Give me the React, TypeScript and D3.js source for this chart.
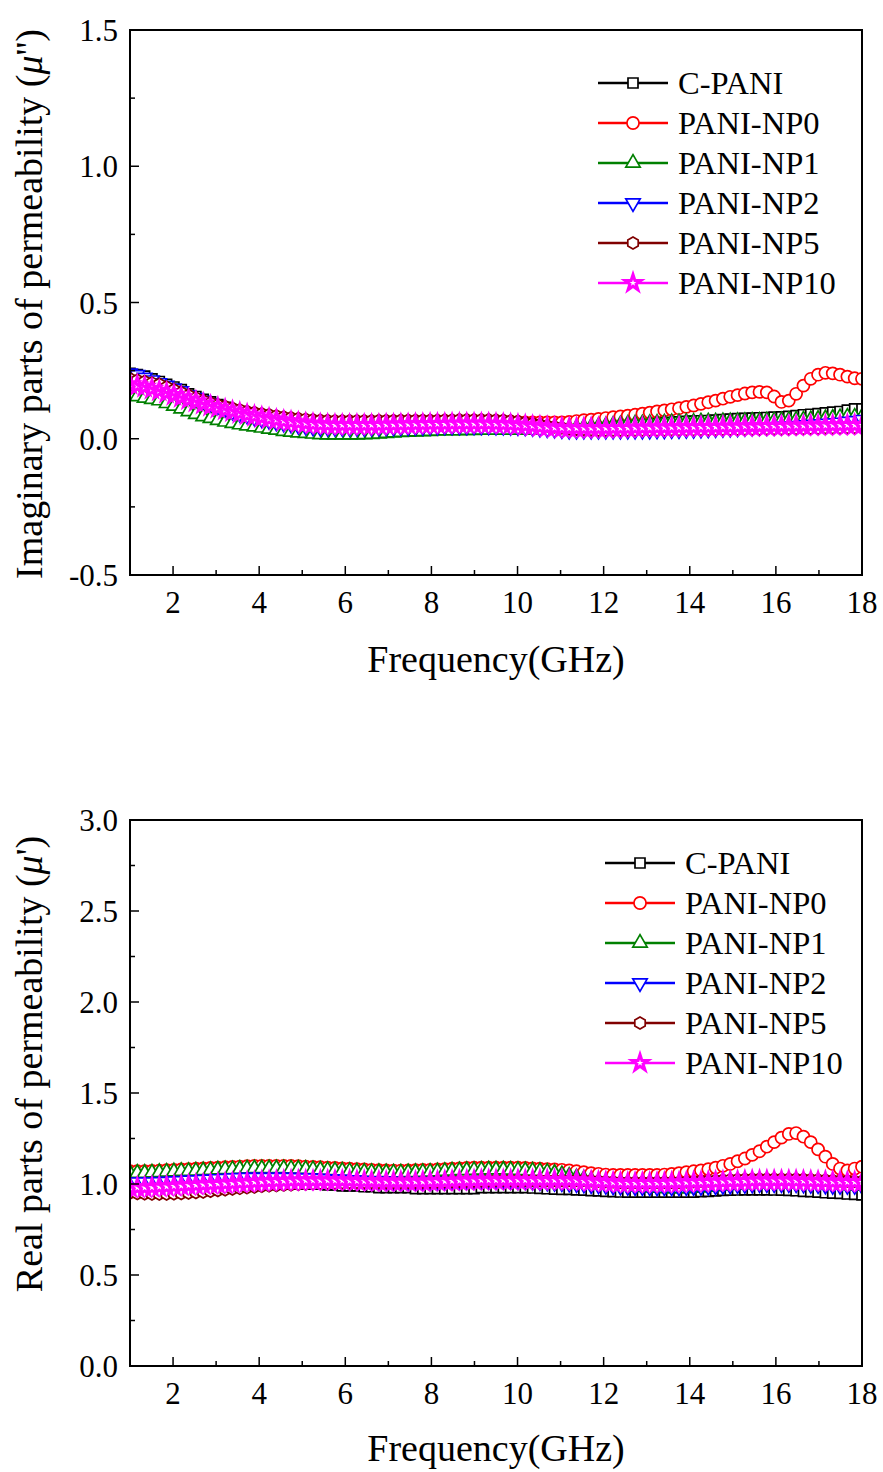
import { useEffect, useRef } from 'react'
import * as d3 from 'd3'

// measurement grid, 101 points from 1 to 18 GHz
const freq = d3.range(101).map(i => 1 + i * 0.17)

const seriesNames = ['C-PANI', 'PANI-NP0', 'PANI-NP1', 'PANI-NP2', 'PANI-NP5', 'PANI-NP10']
const seriesColors = ['#000000', '#ff0000', '#008000', '#0000ff', '#800000', '#ff00ff']
const seriesMarkers = ['square', 'circle', 'triangleUp', 'triangleDown', 'hexagon', 'star']

const xTicks = [2, 4, 6, 8, 10, 12, 14, 16, 18]
const imagTicks = [-0.5, 0.0, 0.5, 1.0, 1.5]
const realTicks = [0.0, 0.5, 1.0, 1.5, 2.0, 2.5, 3.0]

// imaginary part mu''
const imagCPANI = [
  0.24, 0.235, 0.23, 0.22, 0.21, 0.2, 0.19, 0.18, 0.165, 0.155,
  0.145, 0.135, 0.125, 0.115, 0.105, 0.1, 0.095, 0.09, 0.085, 0.08,
  0.075, 0.07, 0.065, 0.06, 0.058, 0.055, 0.053, 0.052, 0.05, 0.05,
  0.05, 0.05, 0.05, 0.05, 0.05, 0.052, 0.052, 0.053, 0.053, 0.054,
  0.055, 0.055, 0.055, 0.056, 0.056, 0.056, 0.056, 0.055, 0.055, 0.055,
  0.055, 0.054, 0.053, 0.052, 0.05, 0.048, 0.046, 0.045, 0.044, 0.044,
  0.044, 0.044, 0.045, 0.045, 0.045, 0.046, 0.046, 0.047, 0.048, 0.05,
  0.052, 0.054, 0.056, 0.058, 0.06, 0.062, 0.064, 0.065, 0.066, 0.067,
  0.068, 0.07, 0.072, 0.074, 0.075, 0.076, 0.077, 0.078, 0.079, 0.08,
  0.082, 0.085, 0.088, 0.09, 0.092, 0.095, 0.098, 0.1, 0.105, 0.11,
  0.11,
]
const imagNP0 = [
  0.21, 0.205, 0.2, 0.195, 0.19, 0.18, 0.17, 0.16, 0.15, 0.14,
  0.13, 0.12, 0.11, 0.105, 0.1, 0.095, 0.09, 0.085, 0.08, 0.075,
  0.07, 0.068, 0.065, 0.062, 0.06, 0.058, 0.056, 0.055, 0.055, 0.055,
  0.055, 0.055, 0.056, 0.056, 0.057, 0.057, 0.058, 0.058, 0.059, 0.06,
  0.06, 0.06, 0.06, 0.061, 0.061, 0.062, 0.062, 0.062, 0.062, 0.062,
  0.062, 0.062, 0.062, 0.061, 0.06, 0.06, 0.06, 0.06, 0.06, 0.06,
  0.062, 0.065, 0.068, 0.07, 0.073, 0.076, 0.079, 0.082, 0.085, 0.088,
  0.092, 0.096, 0.1, 0.104, 0.108, 0.112, 0.117, 0.122, 0.128, 0.134,
  0.14, 0.147, 0.154, 0.16, 0.166, 0.17, 0.172, 0.17, 0.155, 0.135,
  0.14, 0.165, 0.195, 0.22, 0.235, 0.242, 0.24, 0.235, 0.228, 0.222,
  0.22,
]
const imagNP1 = [
  0.16, 0.155, 0.15, 0.145, 0.14, 0.13, 0.12, 0.11, 0.1, 0.09,
  0.082, 0.075, 0.068, 0.062, 0.057, 0.052, 0.048, 0.044, 0.04, 0.036,
  0.032, 0.028, 0.025, 0.022, 0.02, 0.018, 0.016, 0.015, 0.015, 0.015,
  0.015, 0.015, 0.016, 0.017, 0.018, 0.02, 0.022, 0.024, 0.025, 0.026,
  0.027, 0.028, 0.029, 0.03, 0.03, 0.03, 0.031, 0.031, 0.032, 0.032,
  0.032, 0.032, 0.032, 0.032, 0.033, 0.033, 0.034, 0.035, 0.036, 0.037,
  0.038, 0.04, 0.042, 0.044, 0.046, 0.048, 0.05, 0.052, 0.054, 0.055,
  0.056, 0.057, 0.058, 0.059, 0.06, 0.06, 0.061, 0.061, 0.062, 0.062,
  0.062, 0.063, 0.063, 0.064, 0.064, 0.065, 0.065, 0.066, 0.066, 0.067,
  0.068, 0.069, 0.07, 0.071, 0.072, 0.074, 0.076, 0.078, 0.08, 0.08,
  0.08,
]
const imagNP2 = [
  0.24, 0.235, 0.225, 0.215, 0.205, 0.195, 0.185, 0.175, 0.16, 0.15,
  0.14, 0.13, 0.12, 0.11, 0.1, 0.092, 0.085, 0.078, 0.072, 0.066,
  0.06, 0.056, 0.052, 0.048, 0.045, 0.042, 0.04, 0.04, 0.04, 0.04,
  0.04, 0.04, 0.04, 0.041, 0.041, 0.042, 0.042, 0.043, 0.043, 0.044,
  0.044, 0.045, 0.045, 0.046, 0.046, 0.046, 0.046, 0.046, 0.046, 0.046,
  0.045, 0.045, 0.044, 0.043, 0.042, 0.04, 0.038, 0.036, 0.034, 0.032,
  0.03, 0.03, 0.03, 0.03, 0.03, 0.03, 0.03, 0.03, 0.03, 0.03,
  0.03, 0.03, 0.031, 0.031, 0.032, 0.032, 0.033, 0.033, 0.034, 0.035,
  0.036, 0.037, 0.038, 0.039, 0.04, 0.041, 0.042, 0.043, 0.044, 0.045,
  0.046, 0.048, 0.05, 0.052, 0.054, 0.056, 0.058, 0.06, 0.063, 0.066,
  0.07,
]
const imagNP5 = [
  0.22, 0.215, 0.21, 0.205, 0.2, 0.19, 0.18, 0.17, 0.16, 0.15,
  0.14, 0.132, 0.125, 0.118, 0.112, 0.106, 0.1, 0.096, 0.092, 0.088,
  0.084, 0.08, 0.077, 0.074, 0.072, 0.07, 0.068, 0.067, 0.066, 0.066,
  0.066, 0.066, 0.066, 0.066, 0.067, 0.067, 0.067, 0.068, 0.068, 0.068,
  0.068, 0.068, 0.068, 0.069, 0.069, 0.07, 0.07, 0.07, 0.07, 0.07,
  0.069, 0.068, 0.066, 0.064, 0.06, 0.056, 0.052, 0.048, 0.044, 0.04,
  0.037, 0.035, 0.034, 0.033, 0.032, 0.032, 0.032, 0.032, 0.032, 0.032,
  0.032, 0.032, 0.032, 0.032, 0.033, 0.033, 0.033, 0.033, 0.034, 0.034,
  0.034, 0.035, 0.035, 0.035, 0.036, 0.036, 0.036, 0.037, 0.037, 0.037,
  0.038, 0.038, 0.038, 0.039, 0.039, 0.04, 0.04, 0.04, 0.041, 0.041,
  0.042,
]
const imagNP10 = [
  0.2, 0.195, 0.19, 0.183, 0.176, 0.168, 0.16, 0.152, 0.144, 0.136,
  0.128, 0.12, 0.113, 0.106, 0.1, 0.094, 0.088, 0.083, 0.078, 0.073,
  0.069, 0.065, 0.062, 0.059, 0.056, 0.054, 0.052, 0.051, 0.05, 0.05,
  0.05, 0.05, 0.05, 0.05, 0.05, 0.051, 0.051, 0.052, 0.052, 0.053,
  0.053, 0.054, 0.054, 0.054, 0.055, 0.055, 0.055, 0.055, 0.055, 0.055,
  0.054, 0.053, 0.052, 0.05, 0.048, 0.046, 0.044, 0.042, 0.04, 0.039,
  0.038, 0.038, 0.038, 0.038, 0.038, 0.038, 0.039, 0.039, 0.039, 0.04,
  0.04, 0.04, 0.041, 0.041, 0.041, 0.042, 0.042, 0.042, 0.043, 0.043,
  0.043, 0.044, 0.044, 0.044, 0.045, 0.045, 0.045, 0.046, 0.046, 0.046,
  0.047, 0.047, 0.047, 0.048, 0.048, 0.048, 0.049, 0.049, 0.05, 0.05,
  0.05,
]

// real part mu'
const realCPANI = [
  0.98, 0.98, 0.98, 0.98, 0.98, 0.98, 0.98, 0.985, 0.985, 0.99,
  0.99, 0.99, 0.995, 0.995, 1.0, 1.0, 1.0, 1.0, 1.0, 1.0,
  1.0, 1.0, 1.0, 1.0, 1.0, 1.0, 1.0, 0.995, 0.995, 0.99,
  0.99, 0.99, 0.985, 0.985, 0.98, 0.98, 0.98, 0.98, 0.98, 0.975,
  0.975, 0.975, 0.975, 0.975, 0.975, 0.975, 0.975, 0.975, 0.98, 0.98,
  0.98, 0.98, 0.98, 0.98, 0.98, 0.978, 0.976, 0.974, 0.972, 0.97,
  0.97, 0.968, 0.966, 0.964, 0.962, 0.96, 0.958, 0.956, 0.955, 0.955,
  0.955, 0.955, 0.955, 0.955, 0.955, 0.955, 0.955, 0.955, 0.958, 0.96,
  0.962, 0.965, 0.966, 0.967, 0.968, 0.968, 0.968, 0.968, 0.967, 0.966,
  0.965, 0.963, 0.96, 0.958, 0.955, 0.952, 0.95, 0.948, 0.945, 0.943,
  0.94,
]
const realNP0 = [
  1.07, 1.07, 1.07, 1.072, 1.074, 1.076, 1.078, 1.08, 1.082, 1.084,
  1.086, 1.088, 1.09, 1.092, 1.094, 1.096, 1.098, 1.1, 1.1, 1.1,
  1.1, 1.1, 1.1, 1.098, 1.096, 1.094, 1.092, 1.09, 1.088, 1.086,
  1.084, 1.082, 1.08, 1.078, 1.076, 1.075, 1.074, 1.074, 1.075, 1.076,
  1.077, 1.078, 1.08, 1.082, 1.084, 1.086, 1.088, 1.09, 1.09, 1.09,
  1.09, 1.09, 1.09, 1.09, 1.088, 1.086, 1.084, 1.082, 1.08, 1.078,
  1.075, 1.07, 1.065, 1.06, 1.056, 1.052, 1.05, 1.05, 1.05, 1.05,
  1.05, 1.05, 1.05, 1.052, 1.055, 1.06, 1.065, 1.07, 1.075, 1.082,
  1.09, 1.1, 1.11, 1.125, 1.14, 1.16, 1.18, 1.205, 1.23, 1.255,
  1.275, 1.28, 1.26, 1.23, 1.19, 1.15, 1.11, 1.085, 1.075, 1.085,
  1.095,
]
const realNP1 = [
  1.06, 1.06, 1.06, 1.062, 1.064, 1.066, 1.068, 1.07, 1.07, 1.072,
  1.074, 1.076, 1.078, 1.08, 1.08, 1.082, 1.084, 1.085, 1.085, 1.085,
  1.085, 1.085, 1.084, 1.083, 1.082, 1.08, 1.078, 1.076, 1.074, 1.072,
  1.07, 1.068, 1.066, 1.065, 1.064, 1.063, 1.062, 1.062, 1.063, 1.064,
  1.065, 1.066, 1.068, 1.07, 1.072, 1.074, 1.075, 1.076, 1.077, 1.078,
  1.078, 1.078, 1.077, 1.076, 1.074, 1.072, 1.07, 1.066, 1.06, 1.052,
  1.044, 1.036, 1.028, 1.02, 1.012, 1.005, 1.0, 0.995, 0.99, 0.985,
  0.982, 0.98, 0.978, 0.976, 0.975, 0.975, 0.976, 0.978, 0.98, 0.983,
  0.986, 0.99, 0.993, 0.996, 0.998, 1.0, 1.0, 1.0, 1.0, 1.0,
  1.0, 1.0, 1.0, 1.0, 1.0, 0.998, 0.996, 0.994, 0.992, 0.99,
  0.99,
]
const realNP2 = [
  1.01, 1.01, 1.01, 1.01, 1.012, 1.014, 1.016, 1.018, 1.02, 1.022,
  1.024, 1.026, 1.028, 1.03, 1.032, 1.034, 1.035, 1.036, 1.036, 1.036,
  1.036, 1.036, 1.035, 1.034, 1.033, 1.032, 1.03, 1.028, 1.026, 1.024,
  1.022, 1.02, 1.018, 1.016, 1.015, 1.014, 1.013, 1.012, 1.012, 1.012,
  1.012, 1.012, 1.013, 1.014, 1.015, 1.016, 1.017, 1.018, 1.018, 1.018,
  1.018, 1.018, 1.017, 1.016, 1.015, 1.013, 1.011, 1.009, 1.007, 1.005,
  1.003, 1.0, 0.998, 0.995, 0.993, 0.99, 0.988, 0.986, 0.985, 0.984,
  0.983, 0.982, 0.982, 0.982, 0.982, 0.982, 0.983, 0.984, 0.985, 0.986,
  0.988, 0.99, 0.992, 0.994, 0.996, 0.998, 1.0, 1.0, 1.0, 1.0,
  1.0, 1.0, 0.998, 0.996, 0.994, 0.992, 0.99, 0.99, 0.99, 0.99,
  0.99,
]
const realNP5 = [
  0.95, 0.948, 0.946, 0.945, 0.945, 0.945, 0.946, 0.948, 0.95, 0.953,
  0.956, 0.96, 0.964, 0.968, 0.972, 0.976, 0.98, 0.984, 0.988, 0.99,
  0.992, 0.994, 0.996, 0.998, 1.0, 1.002, 1.004, 1.005, 1.006, 1.007,
  1.008, 1.008, 1.008, 1.008, 1.008, 1.008, 1.008, 1.008, 1.009, 1.01,
  1.01, 1.011, 1.012, 1.013, 1.014, 1.015, 1.016, 1.017, 1.018, 1.019,
  1.02, 1.02, 1.02, 1.02, 1.02, 1.02, 1.02, 1.02, 1.02, 1.02,
  1.02, 1.02, 1.02, 1.018, 1.016, 1.014, 1.012, 1.01, 1.01, 1.01,
  1.01, 1.01, 1.01, 1.01, 1.01, 1.01, 1.012, 1.014, 1.016, 1.018,
  1.02, 1.022, 1.024, 1.025, 1.026, 1.027, 1.028, 1.028, 1.028, 1.028,
  1.028, 1.027, 1.026, 1.025, 1.024, 1.022, 1.02, 1.018, 1.016, 1.015,
  1.015,
]
const realNP10 = [
  0.98, 0.98, 0.98, 0.982, 0.984, 0.986, 0.988, 0.99, 0.992, 0.994,
  0.996, 0.998, 1.0, 1.002, 1.004, 1.006, 1.008, 1.01, 1.012, 1.014,
  1.015, 1.016, 1.017, 1.018, 1.018, 1.018, 1.018, 1.018, 1.018, 1.018,
  1.017, 1.016, 1.015, 1.014, 1.013, 1.012, 1.012, 1.012, 1.012, 1.012,
  1.012, 1.013, 1.014, 1.015, 1.016, 1.017, 1.018, 1.019, 1.02, 1.02,
  1.02, 1.02, 1.02, 1.02, 1.02, 1.02, 1.02, 1.02, 1.02, 1.02,
  1.02, 1.018, 1.016, 1.014, 1.012, 1.01, 1.008, 1.006, 1.005, 1.005,
  1.005, 1.005, 1.005, 1.005, 1.006, 1.007, 1.008, 1.009, 1.01, 1.011,
  1.012, 1.013, 1.014, 1.015, 1.016, 1.017, 1.018, 1.018, 1.018, 1.018,
  1.018, 1.017, 1.016, 1.015, 1.014, 1.013, 1.012, 1.011, 1.01, 1.01,
  1.01,
]

const imagSeries = [imagCPANI, imagNP0, imagNP1, imagNP2, imagNP5, imagNP10]
const realSeries = [realCPANI, realNP0, realNP1, realNP2, realNP5, realNP10]

const FONT = "'Liberation Serif', 'DejaVu Serif', 'Times New Roman', serif"

// marker path centered on 0,0
const markerPath = (kind: string) => {
  if (kind === 'square') return d3.symbol(d3.symbolSquare, 100)()
  if (kind === 'circle') return d3.symbol(d3.symbolCircle, 115)()
  if (kind === 'triangleUp' || kind === 'triangleDown') return d3.symbol(d3.symbolTriangle, 90)()
  if (kind === 'star') return d3.symbol(d3.symbolStar, 80)()
  // hexagon
  const r = 6
  const pts = d3.range(6).map(k => {
    const a = Math.PI / 2 + (k * Math.PI) / 3
    return [r * Math.cos(a), r * Math.sin(a)]
  })
  return 'M' + pts.map(p => p.join(',')).join('L') + 'Z'
}

const addMarker = (g: any, kind: string, color: string, x: number, y: number) => {
  g.append('path')
    .attr('d', markerPath(kind))
    .attr('transform', `translate(${x},${y})` + (kind === 'triangleDown' ? ' rotate(180)' : ''))
    .attr('fill', 'white')
    .attr('stroke', color)
    .attr('stroke-width', kind === 'star' ? 3 : 1.7)
}

const drawPanel = (svg: any, opts: any) => {
  const { top, bottom, left, right, yDomain, yTicks, yMinorStep, series, yTitle, titleCenter, legendTop } = opts

  const x = d3.scaleLinear().domain([1, 18]).range([left, right])
  const y = d3.scaleLinear().domain(yDomain).range([bottom, top])

  const g = svg.append('g').attr('font-family', FONT)

  // clip
  const clipId = 'clip' + Math.round(top)
  svg.append('clipPath').attr('id', clipId)
    .append('rect').attr('x', left).attr('y', top).attr('width', right - left).attr('height', bottom - top)

  // series
  const plot = g.append('g').attr('clip-path', `url(#${clipId})`)
  series.forEach((vals: number[], si: number) => {
    const pts = freq.map((f, i) => [f, vals[i]])
    plot.append('path')
      .attr('d', d3.line().x((d: any) => x(d[0])).y((d: any) => y(d[1]))(pts as any))
      .attr('fill', 'none')
      .attr('stroke', seriesColors[si])
      .attr('stroke-width', 2)
    const mg = plot.append('g')
    pts.forEach(p => addMarker(mg, seriesMarkers[si], seriesColors[si], x(p[0]), y(p[1])))
  })

  // frame
  g.append('rect')
    .attr('x', left).attr('y', top)
    .attr('width', right - left).attr('height', bottom - top)
    .attr('fill', 'none').attr('stroke', 'black').attr('stroke-width', 2)

  // x ticks (inward)
  d3.range(2, 18.01, 1).forEach(v => {
    const major = v % 2 === 0
    g.append('line')
      .attr('x1', x(v)).attr('x2', x(v))
      .attr('y1', bottom).attr('y2', bottom - (major ? 9 : 5))
      .attr('stroke', 'black').attr('stroke-width', 1.5)
  })
  g.selectAll('.xl').data(xTicks).enter().append('text')
    .attr('x', (d: number) => x(d))
    .attr('y', bottom + 38)
    .attr('text-anchor', 'middle')
    .attr('font-size', 31)
    .text((d: number) => d)

  // y ticks
  d3.range(yDomain[0], yDomain[1] + 0.001, yMinorStep).forEach(v => {
    const major = Math.abs(v * 2 - Math.round(v * 2)) < 1e-6
    g.append('line')
      .attr('x1', left).attr('x2', left + (major ? 9 : 5))
      .attr('y1', y(v)).attr('y2', y(v))
      .attr('stroke', 'black').attr('stroke-width', 1.5)
  })
  g.selectAll('.yl').data(yTicks).enter().append('text')
    .attr('x', left - 12)
    .attr('y', (d: number) => y(d) + 11)
    .attr('text-anchor', 'end')
    .attr('font-size', 31)
    .text((d: number) => d3.format('.1f')(d).replace('\u2212', '-'))

  // axis titles
  g.append('text')
    .attr('x', (left + right) / 2)
    .attr('y', bottom + opts.xTitleGap)
    .attr('text-anchor', 'middle')
    .attr('font-size', 38)
    .text('Frequency(GHz)')

  const yt = g.append('text')
    .attr('transform', `translate(42,${titleCenter}) rotate(-90)`)
    .attr('text-anchor', 'middle')
    .attr('font-size', 38)
  yt.append('tspan').text(yTitle[0])
  yt.append('tspan').attr('font-style', 'italic').text('\u03bc')
  yt.append('tspan').text(yTitle[1])

  // legend
  const lx = opts.legendX
  seriesNames.forEach((name, i) => {
    const ly = legendTop + i * 40
    g.append('line')
      .attr('x1', lx).attr('x2', lx + 70)
      .attr('y1', ly).attr('y2', ly)
      .attr('stroke', seriesColors[i]).attr('stroke-width', 2.5)
    addMarker(g, seriesMarkers[i], seriesColors[i], lx + 35, ly)
    g.append('text')
      .attr('x', lx + 80)
      .attr('y', ly + 11)
      .attr('font-size', 32.5)
      .text(name)
  })
}

const App = () => {
  const svgRef = useRef<SVGSVGElement>(null)

  useEffect(() => {
    if (!svgRef.current) return
    const svg = d3.select(svgRef.current)
    svg.selectAll('*').remove()

    drawPanel(svg, {
      top: 30, bottom: 575, left: 130, right: 862,
      yDomain: [-0.5, 1.5], yTicks: imagTicks, yMinorStep: 0.25,
      series: imagSeries,
      yTitle: ['Imaginary parts of permeability (', "'')"],
      titleCenter: 304, xTitleGap: 97,
      legendX: 598, legendTop: 83,
    })
    drawPanel(svg, {
      top: 820, bottom: 1366, left: 130, right: 862,
      yDomain: [0, 3], yTicks: realTicks, yMinorStep: 0.25,
      series: realSeries,
      yTitle: ['Real parts of permeability (', "')"],
      titleCenter: 1064, xTitleGap: 95,
      legendX: 605, legendTop: 863,
    })
  }, [])

  return (
    <svg
      ref={svgRef}
      width={883}
      height={1472}
      style={{ position: 'absolute', left: 0, top: 0, background: 'white' }}
    />
  )
}

export default App
